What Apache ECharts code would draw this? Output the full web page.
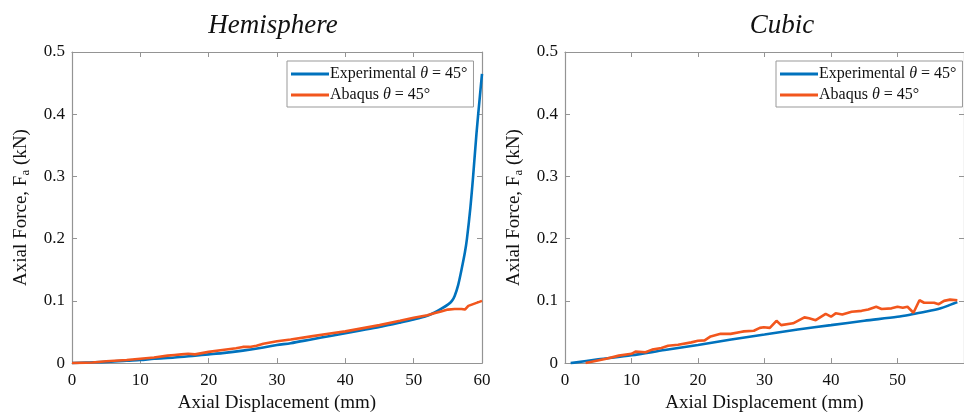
<!DOCTYPE html>
<html>
<head>
<meta charset="utf-8">
<script src="https://cdn.jsdelivr.net/npm/echarts@6/dist/echarts.min.js"></script>
<style>
  html, body { margin: 0; padding: 0; background: #fff; }
  #chart { width: 964px; height: 418px; }
</style>
</head>
<body>
<div id="chart"></div>
<script>
// Force–displacement curves for two specimen geometries
const panelTitles = ['Hemisphere', 'Cubic'];
const seriesNames = ['Experimental \u03b8 = 45\u00b0', 'Abaqus \u03b8 = 45\u00b0'];
const yTicks = [0, 0.1, 0.2, 0.3, 0.4, 0.5];
const xTicks = [0, 10, 20, 30, 40, 50, 60];

// Hemisphere – experimental
const hemiExpX = [0, 2, 5, 8, 10, 12, 15, 18, 20, 22, 25, 28, 30, 32, 35, 38, 40, 42, 45, 48, 50, 52, 53, 54, 55, 55.6, 56, 56.5, 57, 57.5, 57.8, 58.3, 58.7, 59.2, 59.7, 60];
const hemiExpY = [0, 0.001, 0.002, 0.004, 0.005, 0.007, 0.009, 0.012, 0.014, 0.016, 0.02, 0.025, 0.029, 0.032, 0.038, 0.044, 0.048, 0.052, 0.058, 0.065, 0.07, 0.076, 0.081, 0.087, 0.094, 0.1, 0.108, 0.125, 0.15, 0.178, 0.2, 0.25, 0.3, 0.37, 0.43, 0.465];

// Hemisphere – Abaqus
const hemiFeaX = [0, 3, 5, 8, 10, 12, 14, 15, 16, 17, 18, 20, 22, 24, 25, 26, 27, 28, 30, 32, 35, 38, 40, 42, 45, 48, 50, 52, 53, 54, 55, 56, 57, 57.5, 58, 59, 60];
const hemiFeaY = [0, 0.001, 0.003, 0.005, 0.007, 0.009, 0.012, 0.013, 0.014, 0.015, 0.014, 0.018, 0.021, 0.024, 0.026, 0.026, 0.028, 0.031, 0.035, 0.038, 0.043, 0.048, 0.051, 0.055, 0.061, 0.068, 0.073, 0.077, 0.08, 0.083, 0.086, 0.087, 0.087, 0.086, 0.092, 0.096, 0.1];

// Cubic – experimental
const cubeExpX = [0.85, 5, 10, 15, 20, 25, 30, 35, 40, 45, 50, 52, 54, 56.5, 58, 59];
const cubeExpY = [0, 0.006, 0.0125, 0.021, 0.029, 0.038, 0.046, 0.054, 0.061, 0.068, 0.0745, 0.078, 0.082, 0.088, 0.094, 0.098];

// Cubic – Abaqus
const cubeFeaX = [3.1, 6.2, 8.1, 10.0, 10.6, 12.1, 13.1, 14.5, 15.5, 17.0, 19.0, 20.0, 21.0, 21.9, 23.4, 24.9, 26.4, 26.9, 28.4, 29.3, 29.9, 30.8, 31.8, 32.5, 34.3, 36.0, 36.7, 37.7, 39.2, 40.0, 40.7, 41.7, 43.1, 44.6, 45.6, 46.8, 47.6, 49.1, 50.0, 50.8, 51.5, 52.4, 53.3, 54.0, 55.5, 56.2, 57.0, 57.9, 59.0];
const cubeFeaY = [0, 0.007, 0.012, 0.015, 0.0185, 0.0175, 0.0217, 0.0243, 0.028, 0.0296, 0.0333, 0.036, 0.0365, 0.0429, 0.047, 0.047, 0.05, 0.051, 0.052, 0.0566, 0.0577, 0.0566, 0.068, 0.061, 0.064, 0.0735, 0.072, 0.069, 0.079, 0.0746, 0.08, 0.078, 0.0825, 0.084, 0.086, 0.0905, 0.087, 0.088, 0.0905, 0.089, 0.0905, 0.081, 0.101, 0.097, 0.097, 0.0947, 0.1, 0.102, 0.101];

const pairs = (xs, ys) => xs.map((x, i) => [x, ys[i]]);

const FONT = '"Liberation Serif", "Times New Roman", serif';
const AXIS_GREY = '#949494';
const BLUE = '#0072BD';
const ORANGE = '#F2561D';

const grids = [
  { left: 72, top: 52, width: 410, height: 315 },
  { left: 565, top: 52, width: 406, height: 315 }
];

const xAxes = [], yAxes = [];
grids.forEach((g, gi) => {
  const common = {
    gridIndex: gi, min: xTicks[0], max: xTicks[xTicks.length - 1], interval: 10, type: 'value',
    axisLine: { show: true, onZero: false, lineStyle: { color: AXIS_GREY, width: 1.2 } },
    axisTick: { show: true, inside: true, length: 5, lineStyle: { color: AXIS_GREY } },
    splitLine: { show: false }
  };
  xAxes.push(Object.assign({}, common, {
    position: 'bottom',
    name: 'Axial Displacement (mm)', nameLocation: 'middle', nameGap: 30,
    nameTextStyle: { fontFamily: FONT, fontSize: 19, color: '#111' },
    axisLabel: {
      fontFamily: FONT, fontSize: 17, color: '#111', margin: 9,
      showMaxLabel: gi === 0
    }
  }));
  xAxes.push(Object.assign({}, common, { position: 'top', axisLabel: { show: false } }));

  const ycommon = {
    gridIndex: gi, min: yTicks[0], max: yTicks[yTicks.length - 1], interval: 0.1, type: 'value',
    axisLine: { show: true, onZero: false, lineStyle: { color: AXIS_GREY, width: 1.2 } },
    axisTick: { show: true, inside: true, length: 5, lineStyle: { color: AXIS_GREY } },
    splitLine: { show: false }
  };
  yAxes.push(Object.assign({}, ycommon, {
    position: 'left',
    name: '{t|Axial Force, F}{s|a}{t| (kN)}', nameLocation: 'middle', nameGap: 40,
    nameTextStyle: {
      rich: {
        t: { fontFamily: FONT, fontSize: 19, color: '#111' },
        s: { fontFamily: FONT, fontSize: 13, color: '#111', verticalAlign: 'bottom', padding: [8, 0, 0, 0] }
      }
    },
    axisLabel: {
      fontFamily: FONT, fontSize: 17, color: '#111', margin: 7,
      formatter: v => (v === 0 ? '0' : v.toFixed(1))
    }
  }));
  yAxes.push(Object.assign({}, ycommon, { position: 'right', axisLabel: { show: false } }));
});

const legendRich = {
  n: { fontFamily: FONT, fontSize: 16, color: '#111' },
  i: { fontFamily: FONT, fontSize: 16, color: '#111', fontStyle: 'italic' }
};
const legendFmt = name => {
  const parts = name.split('\u03b8');
  return '{n|' + parts[0] + '}{i|\u03b8}{n|' + parts[1] + '}';
};
const legendBase = {
  orient: 'vertical', data: seriesNames, formatter: legendFmt,
  icon: 'rect', itemWidth: 38, itemHeight: 3, itemGap: 5,
  padding: [5, 6, 4, 4], borderColor: '#999', borderWidth: 1,
  backgroundColor: '#fff', selectedMode: false,
  textStyle: { rich: legendRich, padding: [0, 0, 0, -4] }
};

const lineSeries = (name, data, color, gi, smooth) => ({
  type: 'line', name, data, xAxisIndex: gi * 2, yAxisIndex: gi * 2,
  showSymbol: false, symbol: 'none', smooth: smooth || false, animation: false,
  lineStyle: { color, width: 2.6 }, itemStyle: { color }
});

const option = {
  backgroundColor: '#fff',
  animation: false,
  title: [
    { text: panelTitles[0], left: 268, top: 7, textAlign: 'center',
      textStyle: { fontFamily: FONT, fontSize: 27, fontStyle: 'italic', fontWeight: 'normal', color: '#111' } },
    { text: panelTitles[1], left: 777, top: 7, textAlign: 'center',
      textStyle: { fontFamily: FONT, fontSize: 27, fontStyle: 'italic', fontWeight: 'normal', color: '#111' } }
  ],
  legend: [
    Object.assign({}, legendBase, { left: 287, top: 61 }),
    Object.assign({}, legendBase, { left: 776, top: 61 })
  ],
  grid: grids,
  xAxis: xAxes,
  yAxis: yAxes,
  series: [
    lineSeries(seriesNames[0], pairs(hemiExpX, hemiExpY), BLUE, 0, 0.3),
    lineSeries(seriesNames[1], pairs(hemiFeaX, hemiFeaY), ORANGE, 0),
    lineSeries(seriesNames[0], pairs(cubeExpX, cubeExpY), BLUE, 1, 0.3),
    lineSeries(seriesNames[1], pairs(cubeFeaX, cubeFeaY), ORANGE, 1)
  ]
};

const chart = echarts.init(document.getElementById('chart'), null, { renderer: 'canvas' });
chart.setOption(option);
</script>
</body>
</html>
